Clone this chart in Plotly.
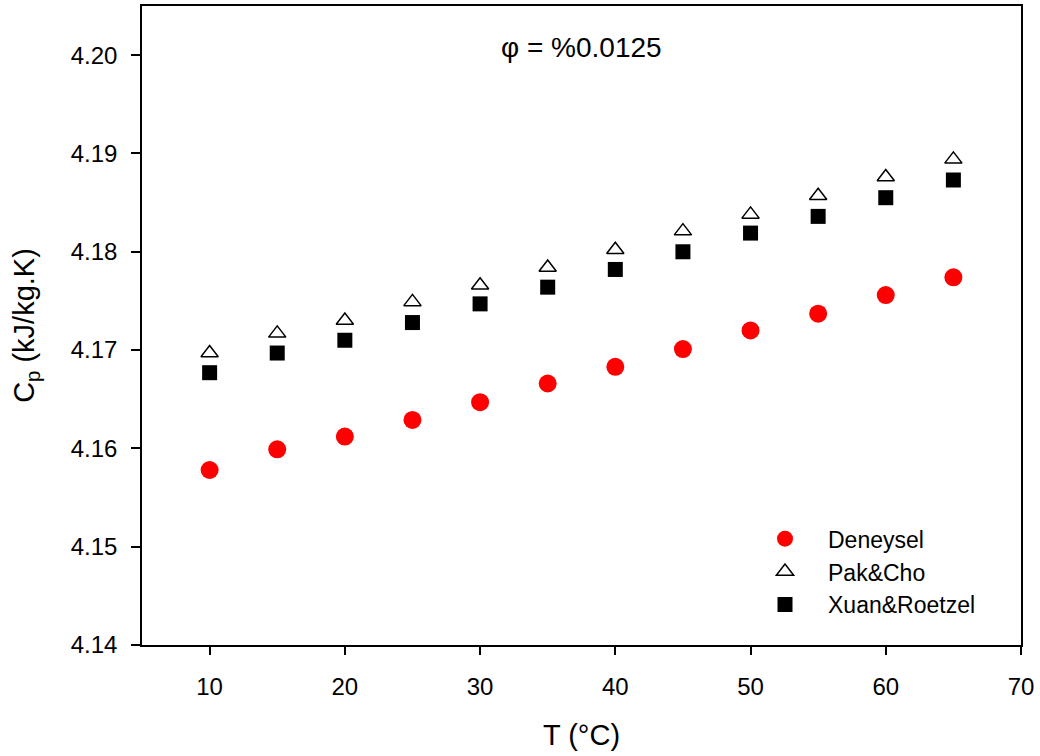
import plotly.graph_objects as go

T = [10, 15, 20, 25, 30, 35, 40, 45, 50, 55, 60, 65]
deneysel = [4.1578, 4.1599, 4.1612, 4.1629, 4.1647, 4.1666, 4.1683, 4.1701, 4.1720, 4.1737, 4.1756, 4.1774]
pak_cho = [4.1697, 4.1717, 4.1730, 4.1749, 4.1766, 4.1784, 4.1802, 4.1821, 4.1838, 4.1857, 4.1876, 4.1894]
xuan_roetzel = [4.1677, 4.1697, 4.1710, 4.1728, 4.1747, 4.1764, 4.1782, 4.1800, 4.1819, 4.1836, 4.1855, 4.1873]

x_ticks = [10, 20, 30, 40, 50, 60, 70]
y_ticks = [4.14, 4.15, 4.16, 4.17, 4.18, 4.19, 4.20]
y_ticklabels = ["4.14", "4.15", "4.16", "4.17", "4.18", "4.19", "4.20"]

FONT = "Arial, Liberation Sans, sans-serif"

fig = go.Figure()
fig.add_trace(go.Scatter(x=T, y=deneysel, mode="markers", name="Deneysel",
                         marker=dict(symbol="circle", size=18, color="#ff0000", line=dict(width=0))))
fig.add_trace(go.Scatter(x=T, y=pak_cho, mode="markers", name="Pak&amp;Cho",
                         marker=dict(symbol="triangle-up", size=15, color="white",
                                     line=dict(width=1.5, color="black"))))
fig.add_trace(go.Scatter(x=T, y=xuan_roetzel, mode="markers", name="Xuan&amp;Roetzel",
                         marker=dict(symbol="square", size=15, color="black", line=dict(width=0))))

fig.update_layout(
    width=1040, height=756,
    margin=dict(l=142, r=19, t=4, b=111),
    paper_bgcolor="white", plot_bgcolor="white",
    font=dict(family=FONT, color="black", size=24),
    showlegend=True,
    legend=dict(x=0.6826, y=0.2, xanchor="left", yanchor="top",
                bgcolor="rgba(0,0,0,0)", borderwidth=0,
                font=dict(family=FONT, size=23, color="black"),
                itemwidth=76, tracegroupgap=0),
    annotations=[dict(text="φ = %0.0125", x=0.5, y=0.9345, xref="paper", yref="paper",
                      xanchor="center", yanchor="middle", showarrow=False,
                      font=dict(family=FONT, size=28, color="black"))],
)

fig.update_xaxes(range=[5, 70], tickvals=x_ticks, ticks="outside", ticklen=8, tickwidth=1.5,
                 tickcolor="black", showline=True, linecolor="black", linewidth=1.5, mirror=True,
                 showgrid=False, zeroline=False, tickfont=dict(size=24),
                 ticklabelstandoff=11,
                 title=dict(text="T (°C)", font=dict(size=29), standoff=26))
fig.update_yaxes(range=[4.14, 4.205], tickvals=y_ticks, ticktext=y_ticklabels, ticks="outside",
                 ticklen=9, tickwidth=1.5, tickcolor="black", showline=True, linecolor="black",
                 linewidth=1.5, mirror=True, showgrid=False, zeroline=False, tickfont=dict(size=24),
                 ticklabelstandoff=9,
                 title=dict(text="C<sub>p</sub> (kJ/kg.K)", font=dict(size=29), standoff=28))

fig.write_html("out.html")
